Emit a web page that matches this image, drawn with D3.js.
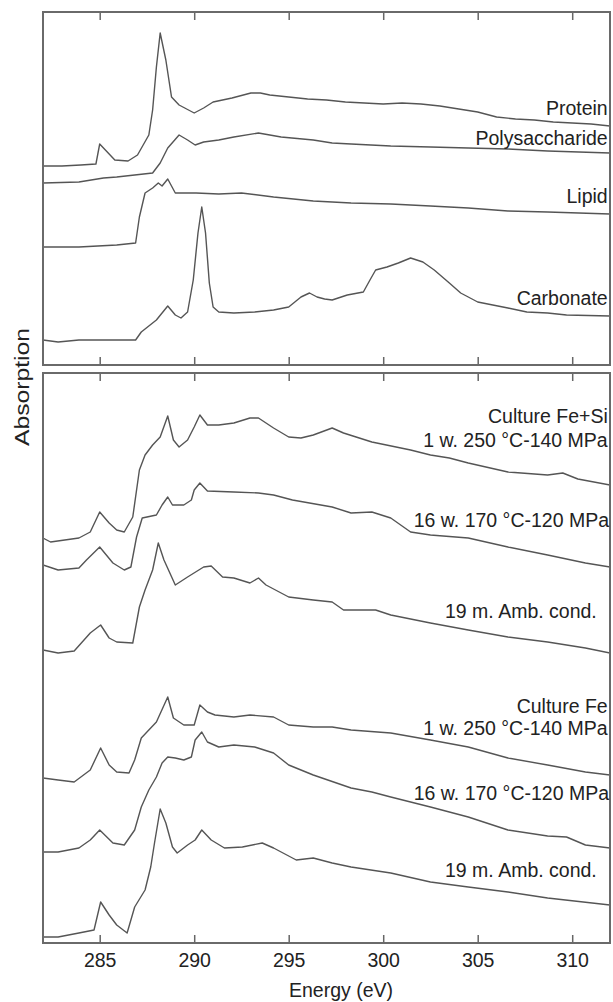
<!DOCTYPE html>
<html>
<head>
<meta charset="utf-8">
<script src="https://cdn.jsdelivr.net/npm/d3@7"></script>
<style>
  body { margin: 0; background: #fff; }
  svg text { font-family: "Liberation Sans", Arial, Helvetica, sans-serif; fill: #222; }
</style>
</head>
<body>
<svg id="chart" width="613" height="1002"></svg>
<script>
// x ticks (eV)
const energyTicks = [285, 290, 295, 300, 305, 310];

// reference spectra, [energy eV, absorption a.u. (offset)]
const protein = [[282,1.99],[283,1.99],[284,2.00],[284.8,2.01],[285.0,2.21],[285.3,2.15],[285.8,2.05],[286.5,2.04],
  [287.0,2.10],[287.6,2.30],[287.8,2.55],[288.0,2.98],[288.2,3.32],[288.5,3.05],[288.8,2.68],[289.2,2.60],[290.0,2.52],
  [290.5,2.57],[291,2.63],[292,2.67],[293,2.72],[293.5,2.72],[294,2.70],[295,2.68],[296,2.66],[297,2.65],[298,2.63],
  [299,2.62],[300,2.61],[301,2.62],[302,2.61],[303,2.59],[304,2.56],[305,2.53],[306,2.48],[307,2.46],[308,2.45],
  [309,2.43],[310,2.42],[311,2.41],[312,2.39]];
const polysaccharide = [[282,1.82],[283.9,1.83],[285.2,1.87],[285.9,1.88],[287.8,1.92],[288.2,2.02],[288.6,2.17],
  [289.2,2.30],[289.65,2.25],[290.05,2.20],[290.5,2.23],[291.3,2.25],[292.1,2.28],[293.4,2.32],[294.6,2.28],[296.3,2.25],
  [297.3,2.22],[298.3,2.21],[300.4,2.19],[302.5,2.18],[304.5,2.17],[306.6,2.16],[308.7,2.14],[312,2.12]];
const lipid = [[282,1.18],[283.9,1.18],[285.9,1.20],[286.9,1.22],[287.1,1.48],[287.4,1.72],[287.8,1.77],[288.1,1.82],
  [288.3,1.79],[288.6,1.86],[289.0,1.72],[290.1,1.72],[291.3,1.71],[292.5,1.72],[294.2,1.68],[296.3,1.64],[298.3,1.62],
  [300.4,1.61],[302.5,1.59],[304.5,1.57],[306.6,1.54],[308.7,1.53],[312,1.51]];
const carbonate = [[282,0.25],[282.8,0.23],[283.9,0.25],[285.9,0.25],[286.9,0.25],[287.2,0.33],[288.0,0.45],[288.6,0.59],
  [289.0,0.50],[289.3,0.47],[289.65,0.53],[289.95,0.85],[290.2,1.32],[290.4,1.58],[290.6,1.32],[290.8,0.82],[291.0,0.58],
  [291.3,0.53],[292.1,0.52],[293.2,0.53],[294.2,0.55],[295.0,0.58],[295.65,0.68],[296.1,0.72],[296.5,0.68],[296.9,0.66],
  [297.3,0.65],[298.1,0.70],[298.95,0.73],[299.3,0.85],[299.6,0.95],[300.2,0.98],[300.8,1.02],[301.45,1.07],[302.1,1.03],
  [302.7,0.95],[303.5,0.82],[304.1,0.72],[305.0,0.63],[305.8,0.60],[306.6,0.57],[307.6,0.53],[308.7,0.52],[309.7,0.50],
  [312,0.49]];

// experimental spectra
const feSi1w = [[282,4.05],[282.4,4.01],[283.9,4.05],[284.5,4.11],[285.0,4.31],[285.5,4.20],[285.9,4.13],[286.3,4.11],
  [286.75,4.26],[287.1,4.73],[287.4,4.88],[287.8,4.98],[288.2,5.06],[288.6,5.27],[288.9,5.03],[289.2,4.96],[289.65,5.03],
  [290.0,5.16],[290.3,5.28],[290.7,5.18],[291.3,5.18],[292.1,5.20],[292.95,5.25],[293.4,5.25],[294.2,5.15],[295.0,5.06],
  [295.65,5.05],[296.3,5.08],[297.3,5.15],[297.9,5.10],[299.4,5.01],[301.45,4.93],[302.5,4.88],[303.5,4.85],[304.5,4.80],
  [306.6,4.71],[308.7,4.68],[309.5,4.70],[310.3,4.64],[312,4.58]];
const feSi16w = [[282,3.78],[282.8,3.73],[283.9,3.75],[284.3,3.83],[285.0,3.96],[285.7,3.80],[286.3,3.73],[286.65,3.76],
  [286.95,4.06],[287.25,4.25],[288.0,4.28],[288.3,4.38],[288.6,4.46],[288.85,4.38],[289.45,4.38],[289.85,4.43],[290.0,4.53],
  [290.3,4.60],[290.7,4.52],[292.1,4.51],[293.4,4.50],[294.2,4.48],[295.2,4.43],[297.3,4.36],[298.3,4.30],[299.4,4.31],
  [300.4,4.25],[301.45,4.11],[302.5,4.08],[304.5,4.05],[306.6,3.96],[308.7,3.88],[310.7,3.80],[312,3.76]];
const feSi19m = [[282,2.93],[282.8,2.90],[283.65,2.92],[284.5,3.10],[285.05,3.18],[285.5,3.05],[285.9,3.01],[286.75,3.00],
  [287.1,3.36],[287.4,3.53],[287.8,3.73],[288.1,4.00],[288.4,3.83],[289.0,3.58],[289.65,3.66],[290.5,3.76],[290.9,3.77],
  [291.5,3.66],[292.1,3.65],[292.95,3.60],[293.4,3.65],[293.8,3.58],[295.0,3.46],[296.3,3.43],[297.3,3.41],[297.9,3.33],
  [299.6,3.33],[300.4,3.28],[302.5,3.20],[304.5,3.13],[306.6,3.06],[308.7,3.01],[310.7,2.95],[312,2.90]];
const fe1w = [[282,1.65],[282.8,1.63],[283.65,1.61],[284.5,1.73],[285.05,1.95],[285.5,1.78],[285.9,1.71],[286.55,1.70],
  [286.85,1.83],[287.2,2.05],[288.0,2.21],[288.6,2.46],[288.9,2.25],[289.45,2.18],[290.0,2.18],[290.3,2.38],[290.7,2.31],
  [291.1,2.28],[292.1,2.26],[292.95,2.28],[294.2,2.26],[295.0,2.18],[296.3,2.16],[297.3,2.16],[298.3,2.13],[300.4,2.10],
  [302.5,2.03],[304.5,1.96],[306.6,1.85],[308.7,1.78],[310.7,1.71],[312,1.68]];
const fe16w = [[282,0.91],[282.8,0.91],[283.9,0.95],[284.5,1.03],[285.0,1.13],[285.7,1.00],[286.3,0.98],[286.85,1.13],
  [287.2,1.36],[287.6,1.53],[288.0,1.66],[288.3,1.80],[288.6,1.86],[289.0,1.85],[289.45,1.83],[289.85,1.86],[290.05,2.03],
  [290.4,2.11],[290.7,2.01],[291.3,1.96],[292.1,1.98],[293.2,1.96],[294.2,1.90],[295.0,1.78],[296.3,1.68],[298.3,1.55],
  [299.4,1.51],[300.4,1.46],[302.5,1.36],[304.5,1.26],[306.6,1.13],[308.7,1.07],[309.7,1.06],[310.7,0.98],[312,0.95]];
const fe19m = [[282,0.06],[282.8,0.06],[283.9,0.10],[284.7,0.13],[285.05,0.41],[285.5,0.28],[285.9,0.18],[286.45,0.10],
  [286.85,0.36],[287.4,0.53],[287.7,0.76],[287.9,1.00],[288.2,1.34],[288.5,1.20],[288.85,0.96],[289.1,0.90],[289.65,0.98],
  [290.05,1.03],[290.4,1.13],[290.9,1.03],[291.6,0.95],[292.55,0.96],[293.6,1.00],[294.2,0.95],[295.4,0.83],[296.3,0.85],
  [297.3,0.80],[298.3,0.76],[300.4,0.70],[302.5,0.61],[304.5,0.56],[306.6,0.51],[308.7,0.45],[312,0.38]];

// labels: text, energy of right end, absorption of baseline
const topLabels = [["Protein",311.88,2.50],["Polysaccharide",311.88,2.20],["Lipid",311.88,1.62],["Carbonate",311.88,0.60]];
const bottomLabels = [["Culture Fe+Si",311.88,5.20],["1 w. 250 °C-140 MPa",311.88,4.96],["16 w. 170 °C-120 MPa",311.95,4.16],
  ["19 m. Amb. cond.",311.3,3.25],["Culture Fe",311.88,2.30],["1 w. 250 °C-140 MPa",311.88,2.08],
  ["16 w. 170 °C-120 MPa",311.95,1.43],["19 m. Amb. cond.",311.3,0.66]];

const svg = d3.select("#chart");
const x = d3.scaleLinear().domain([282, 312]).range([43, 610]);

const panels = [
  { top: 12,  bottom: 365, max: 3.53, spectra: [protein, polysaccharide, lipid, carbonate], labels: topLabels },
  { top: 373, bottom: 943, max: 5.70, spectra: [feSi1w, feSi16w, feSi19m, fe1w, fe16w, fe19m], labels: bottomLabels, showTicks: true }
];

panels.forEach((p, i) => {
  const y = d3.scaleLinear().domain([0, p.max]).range([p.bottom, p.top]);
  const g = svg.append("g");

  g.append("clipPath").attr("id", "clip" + i)
    .append("rect").attr("x", x.range()[0]).attr("y", p.top)
    .attr("width", x.range()[1] - x.range()[0]).attr("height", p.bottom - p.top);

  const line = d3.line().x(d => x(d[0])).y(d => y(d[1]));
  g.append("g").attr("clip-path", `url(#clip${i})`)
    .selectAll("path").data(p.spectra).join("path")
    .attr("d", line)
    .attr("fill", "none")
    .attr("stroke", "#555")
    .attr("stroke-width", 1.4)
    .attr("stroke-linejoin", "round");

  // inward ticks top and bottom
  const topAxis = g.append("g").attr("transform", `translate(0,${p.top})`)
    .call(d3.axisTop(x).tickValues(energyTicks).tickSize(-8).tickFormat(""));
  const botAxis = g.append("g").attr("transform", `translate(0,${p.bottom})`)
    .call(d3.axisBottom(x).tickValues(energyTicks).tickSize(-8).tickPadding(10)
      .tickFormat(p.showTicks ? d3.format("d") : ""));
  [topAxis, botAxis].forEach(a => {
    a.select(".domain").remove();
    a.selectAll(".tick line").attr("stroke", "#666").attr("stroke-width", 1.5);
    a.selectAll(".tick text").attr("font-size", 19.5).attr("fill", "#222");
  });

  g.append("rect")
    .attr("x", x.range()[0]).attr("y", p.top)
    .attr("width", x.range()[1] - x.range()[0]).attr("height", p.bottom - p.top)
    .attr("fill", "none").attr("stroke", "#6a6a6a").attr("stroke-width", 2);

  g.selectAll("text.lab").data(p.labels).join("text")
    .attr("class", "lab")
    .attr("x", d => x(d[1]))
    .attr("y", d => y(d[2]))
    .attr("text-anchor", "end")
    .attr("font-size", 19.5)
    .text(d => d[0]);
});

svg.append("text")
  .attr("x", 341).attr("y", 997)
  .attr("text-anchor", "middle")
  .attr("font-size", 19.5)
  .text("Energy (eV)");

svg.append("text")
  .attr("transform", "translate(29,387) rotate(-90)")
  .attr("text-anchor", "middle")
  .attr("font-size", 21)
  .attr("textLength", 118)
  .attr("lengthAdjust", "spacingAndGlyphs")
  .text("Absorption");
</script>
</body>
</html>
